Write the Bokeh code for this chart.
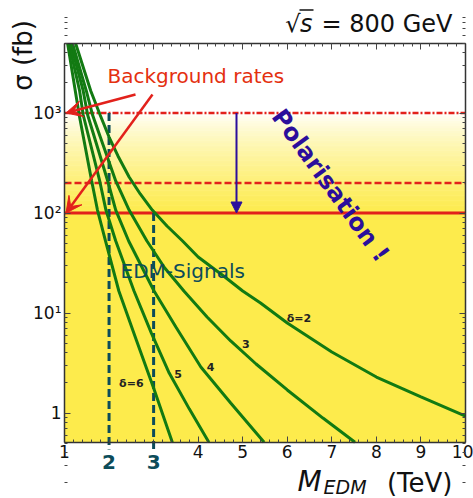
from math import pi
import numpy as np
from bokeh.plotting import figure
from bokeh.models import (Range1d, FixedTicker, LinearAxis, LogAxis, Label, Arrow,
                          NormalHead, VeeHead, CustomJSTickFormatter)
from bokeh.core.properties import value
from bokeh.embed import file_html
from bokeh.resources import INLINE

# ---------------- data ----------------
m_delta2 = [1.25, 1.59, 1.80, 2.0, 2.2, 2.45, 2.7, 2.97, 3.3, 3.65, 4.0, 4.6, 5.0, 5.4, 6.0, 7.0, 8.0, 9.0, 10.0]
s_delta2 = [4950, 1660, 955, 575, 372, 229, 155, 107, 74.1, 52.5, 36.3, 22.9, 16.6, 12.6, 7.94, 4.07, 2.29, 1.45, 0.93]
m_delta3 = [1.18, 1.49, 1.63, 2.15, 2.45, 2.85, 3.25, 3.68, 4.2, 4.73, 5.3, 6.0, 6.8, 7.52]
s_delta3 = [4950, 1660, 955, 209, 107, 52.5, 28.2, 16.6, 9.12, 5.25, 3.09, 1.70, 0.89, 0.51]
m_delta4 = [1.14, 1.42, 1.52, 1.97, 2.15, 2.44, 3.01, 3.5, 4.06, 4.73, 5.48]
s_delta4 = [4950, 1660, 955, 209, 107, 52.5, 16.6, 7.24, 2.88, 1.26, 0.51]
m_delta5 = [1.10, 1.34, 1.42, 1.79, 1.93, 2.15, 2.56, 2.95, 3.35, 3.8, 4.24]
s_delta5 = [4950, 1660, 955, 209, 107, 52.5, 16.6, 6.3, 2.51, 1.10, 0.51]
m_delta6 = [1.07, 1.25, 1.33, 1.61, 1.74, 1.92, 2.22, 2.62, 3.0, 3.42]
s_delta6 = [4950, 1585, 955, 209, 107, 52.5, 16.6, 5.25, 1.78, 0.51]

curve_labels = ["δ=2", "3", "4", "5", "δ=6"]
curve_label_m = [6.26, 5.07, 4.28, 3.55, 2.50]
curve_label_s = [8.75, 4.92, 2.87, 2.47, 1.96]

background_rates = [1000, 200, 100]      # fb
mass_limits = [2, 3]                     # TeV
mass_limit_sigma = [1000, 100]           # fb
mass_limit_labels = ["2", "3"]

x_ticks = [1, 4, 5, 6, 7, 8, 9, 10]      # labelled ticks (2 and 3 are drawn in bold)
y_ticks = [1, 10, 100, 1000]
y_tick_labels = ["1", "10\u00b9", "10\u00b2", "10\u00b3"]

X_LO, X_HI = 1, 10            # TeV, plot box
Y_LO, Y_HI = 0.507, 4955      # fb, plot box

# ---------------- page geometry (pixels) ----------------
W, H = 473, 498
BOX_L, BOX_R, BOX_T, BOX_B = 64, 465, 43, 442
PX_PER_TEV = (BOX_R - BOX_L) / (X_HI - X_LO)
PX_PER_DECADE = (BOX_B - BOX_T) / (np.log10(Y_HI) - np.log10(Y_LO))


def m_at(px):
    return X_LO + (px - BOX_L) / PX_PER_TEV


def s_at(py):
    return 10 ** (np.log10(Y_LO) + (BOX_B - py) / PX_PER_DECADE)


# ---------------- styling ----------------
GREEN = "#127A12"
RED = "#E2211B"
TEXT_RED = "#E4300F"
TEAL = "#0C4C5A"
BLUE = "#2B0E9C"
YELLOW = (253, 235, 76)
INK = "#111111"
FONT = "DejaVu Sans"

p = figure(width=W, height=H, x_range=Range1d(m_at(0), m_at(W)),
           y_range=Range1d(s_at(H), s_at(0)), y_axis_type="log",
           output_backend="svg", toolbar_location=None, min_border=0)
p.title.visible = False
p.xgrid.visible = False
p.ygrid.visible = False
p.background_fill_color = "white"
p.border_fill_color = "white"
p.outline_line_color = None

x_minor = [round(1 + 0.2 * i, 2) for i in range(46)]
y_minor = [k * 10 ** e for e in range(-1, 4) for k in range(2, 10)]
blank = CustomJSTickFormatter(code="return ''")


def style_axis(ax):
    ax.axis_line_color = "#333333"
    ax.axis_line_width = 1.5
    ax.major_tick_in = 6
    ax.major_tick_out = 0
    ax.minor_tick_in = 3
    ax.minor_tick_out = 0
    ax.major_tick_line_color = "#444444"
    ax.minor_tick_line_color = "#444444"
    ax.major_label_text_font = FONT
    ax.major_label_text_color = INK
    ax.major_label_text_font_size = "17px"


bottom = p.xaxis[0]
bottom.ticker = FixedTicker(ticks=x_ticks, minor_ticks=x_minor)
bottom.major_label_overrides = {t: str(t) for t in x_ticks}
bottom.fixed_location = Y_LO
bottom.bounds = (X_LO, X_HI)
style_axis(bottom)
bottom.major_label_standoff = 2

left = p.yaxis[0]
left.ticker = FixedTicker(ticks=y_ticks, minor_ticks=y_minor)
left.major_label_overrides = {t: l for t, l in zip(y_ticks, y_tick_labels)}
left.fixed_location = X_LO
left.bounds = (Y_LO, Y_HI)
style_axis(left)
left.major_label_standoff = 3

top_axis = LinearAxis(ticker=FixedTicker(ticks=list(range(1, 11)), minor_ticks=x_minor),
                      formatter=blank, fixed_location=Y_HI, bounds=(X_LO, X_HI))
style_axis(top_axis)
p.add_layout(top_axis, "above")
right_axis = LogAxis(ticker=FixedTicker(ticks=y_ticks, minor_ticks=y_minor), formatter=blank,
                     fixed_location=X_HI, bounds=(Y_LO, Y_HI))
style_axis(right_axis)
p.add_layout(right_axis, "right")

# background: yellow below 100 fb, gradient to white at 1000 fb
p.quad(left=[X_LO], right=[X_HI], bottom=[Y_LO], top=[background_rates[2]],
       fill_color="#%02x%02x%02x" % YELLOW, line_color=None, level="underlay")
edges = np.linspace(np.log10(background_rates[2]), np.log10(background_rates[0]), 41)
mid = 0.5 * (edges[:-1] + edges[1:])
w = ((edges[-1] - mid) / (edges[-1] - edges[0])) ** 0.75
cols = ["#%02x%02x%02x" % tuple(int(round(255 * (1 - wi) + c * wi)) for c in YELLOW) for wi in w]
p.quad(left=X_LO, right=X_HI, bottom=10 ** edges[:-1], top=10 ** edges[1:],
       fill_color=cols, line_color=cols, line_width=0.6, level="underlay")

# background-rate lines
for rate, dash, lw in zip(background_rates, ["6 2 2 2", "7 3", "solid"], [2.5, 2.5, 3]):
    p.segment(x0=[X_LO], y0=[rate], x1=[X_HI], y1=[rate], line_color=RED,
              line_width=lw, line_dash=dash)

# mass limit markers (reach a little below the axis, as in the original)
p.segment(x0=mass_limits, y0=mass_limit_sigma, x1=mass_limits, y1=[s_at(449)] * 2,
          line_color=TEAL, line_width=3, line_dash="8 4")

# signal curves
for mm, ss in [(m_delta2, s_delta2), (m_delta3, s_delta3), (m_delta4, s_delta4),
               (m_delta5, s_delta5), (m_delta6, s_delta6)]:
    p.line(mm, ss, line_color=GREEN, line_width=3)

p.text(x=curve_label_m, y=curve_label_s, text=curve_labels, text_font=value(FONT),
       text_font_style="bold", text_font_size="11px", text_align="center",
       text_baseline="middle", text_color="#222222")

# arrows
p.add_layout(Arrow(end=VeeHead(size=16, fill_color=RED, line_color=RED),
                   x_start=m_at(135), y_start=s_at(94), x_end=m_at(65.5), y_end=background_rates[0],
                   line_color=RED, line_width=2.5))
p.add_layout(Arrow(end=VeeHead(size=16, fill_color=RED, line_color=RED),
                   x_start=m_at(152), y_start=s_at(94), x_end=m_at(65.5), y_end=background_rates[2],
                   line_color=RED, line_width=2.5))
p.add_layout(Arrow(end=NormalHead(size=11, fill_color=BLUE, line_color=BLUE),
                   x_start=m_at(236), y_start=background_rates[0], x_end=m_at(236),
                   y_end=background_rates[2], line_color=BLUE, line_width=2))


def label(text, px, py, size, color=INK, style="normal", align="left", angle=0.0):
    p.add_layout(Label(x=m_at(px), y=s_at(py), text=text, text_font=FONT,
                       text_font_size=size, text_font_style=style, text_color=color,
                       text_align=align, text_baseline="middle", angle=angle))


label("Background rates", 107, 75, "20px", TEXT_RED)
label("EDM-Signals", 120, 270, "20px", TEAL)
label("Polarisation !", 330, 185, "24px", BLUE, style="bold", align="center", angle=-0.943)

# energy annotation
label("= 800 GeV", 452, 23, "24px", align="right")
label("s", 312, 23, "24px", style="italic", align="right")
label("\u221a", 300, 23, "24px", align="right")
p.segment(x0=[m_at(299)], y0=[s_at(9.5)], x1=[m_at(313)], y1=[s_at(9.5)],
          line_color=INK, line_width=1.5)

# axis titles
label("\u03c3 (fb)", 22, 55, "26px", align="center", angle=pi / 2)
label("M", 297, 481, "28px", style="italic")
label("EDM", 323, 486, "19px", style="italic")
label("(TeV)", 452, 482, "26px", align="right")

# bold mass-limit tick labels
for mx, lab in zip(mass_limits, mass_limit_labels):
    p.add_layout(Label(x=mx, y=s_at(461), text=lab, text_font=FONT, text_font_style="bold",
                       text_font_size="20px", text_color=TEAL, text_align="center",
                       text_baseline="middle"))

open("out.html", "w").write(file_html(p, INLINE))
